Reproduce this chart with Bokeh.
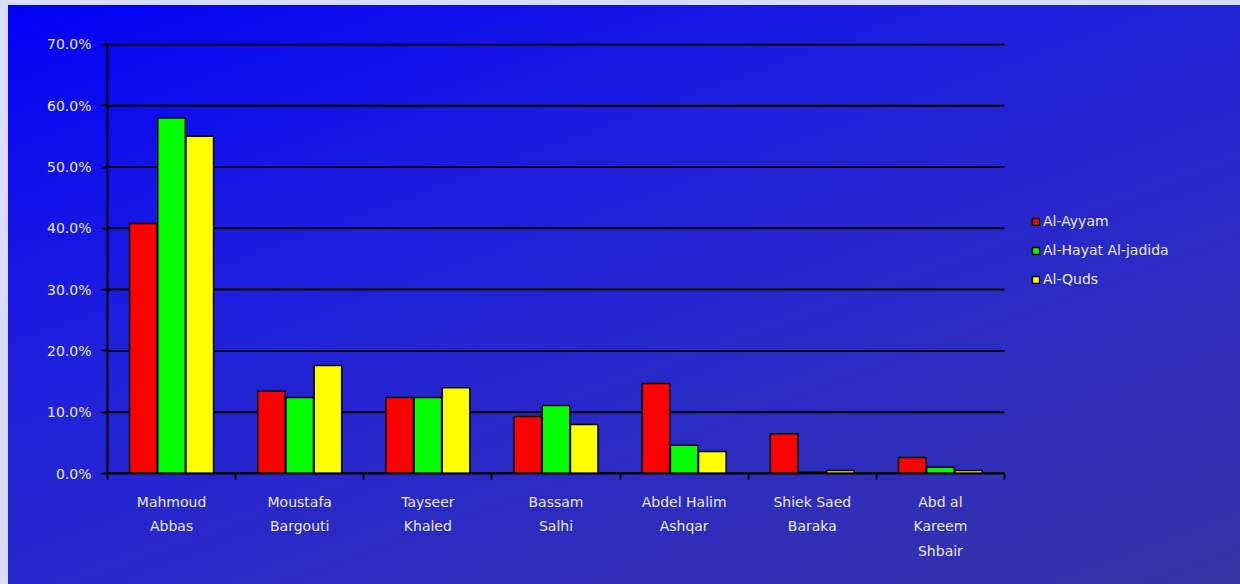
from bokeh.plotting import figure
from bokeh.models import (FixedTicker, NumeralTickFormatter, Range1d, Legend,
                          LegendItem, ColumnDataSource)
from bokeh.embed import file_html
from bokeh.resources import INLINE

categories = ["Mahmoud\nAbbas", "Moustafa\nBargouti", "Tayseer\nKhaled",
              "Bassam\nSalhi", "Abdel Halim\nAshqar", "Shiek Saed\nBaraka",
              "Abd al\nKareem\nShbair"]
series = ["Al-Ayyam", "Al-Hayat Al-jadida", "Al-Quds"]
al_ayyam = [0.408, 0.134, 0.124, 0.093, 0.147, 0.065, 0.026]
al_hayat = [0.580, 0.124, 0.124, 0.111, 0.046, 0.002, 0.010]
al_quds = [0.550, 0.176, 0.140, 0.080, 0.036, 0.005, 0.005]
y_ticks = [0.0, 0.1, 0.2, 0.3, 0.4, 0.5, 0.6, 0.7]

colors = ["#ff0000", "#00ff00", "#ffff00"]
values = [al_ayyam, al_hayat, al_quds]
offsets = [-0.22, 0.0, 0.22]
bar_w = 0.215
text_col = "#e8e8fc"
font = "DejaVu Sans"
fsize = "14px"

n = len(categories)
centers = [i + 0.5 for i in range(n)]

# plot area spans to the right edge; axis/grid limited to the category span
left_px, axis_end_px, W = 107, 1004, 1240
x_end = n * (W - left_px) / (axis_end_px - left_px)

p = figure(width=W, height=584, output_backend="svg", toolbar_location=None,
           x_range=Range1d(0, x_end), y_range=Range1d(0, 0.7015),
           min_border_left=left_px, min_border_right=0, min_border_top=43,
           min_border_bottom=111)

p.background_fill_alpha = 0
p.border_fill_alpha = 0
p.outline_line_color = None
p.styles = {
    "background": "linear-gradient(160deg, #0000f8 0%, #1e1ee0 35%, #2c2cc0 70%, #3434a6 100%)",
    "box-shadow": "inset 8px 5px 0 #d8dcf8",
}

# horizontal gridlines over the category span only
p.segment(x0=[0] * len(y_ticks), x1=[n] * len(y_ticks), y0=y_ticks, y1=y_ticks,
          line_color="black", line_width=2)

items = []
for name, vals, col, off in zip(series, values, colors, offsets):
    src = ColumnDataSource(dict(x=[c + off for c in centers], top=vals))
    r = p.vbar(x="x", top="top", bottom=0, width=bar_w, source=src,
               fill_color=col, line_color="black", line_width=1.5)
    items.append(LegendItem(label=name, renderers=[r]))

legend = Legend(items=items, location=(924, 184), padding=0, margin=0,
                spacing=9, label_height=20, glyph_width=9, glyph_height=9,
                label_standoff=3, background_fill_alpha=0, border_line_alpha=0,
                label_text_color=text_col, label_text_font=font,
                label_text_font_size=fsize)
p.add_layout(legend, "center")

# y axis
p.yaxis.ticker = FixedTicker(ticks=y_ticks)
p.yaxis.formatter = NumeralTickFormatter(format="0.0%")
p.yaxis.axis_line_color = "black"
p.yaxis.axis_line_width = 2
p.yaxis.major_tick_line_color = "black"
p.yaxis.major_tick_line_width = 2
p.yaxis.major_tick_out = 6
p.yaxis.major_tick_in = 0
p.yaxis.minor_tick_line_color = None
p.yaxis.major_label_standoff = 10
p.yaxis.major_label_text_color = text_col
p.yaxis.major_label_text_font = font
p.yaxis.major_label_text_font_size = fsize

# x axis: labels at centers, ticks at category boundaries
p.xaxis.ticker = FixedTicker(ticks=centers, minor_ticks=list(range(n + 1)))
p.xaxis.bounds = (0, n)
p.xaxis.major_label_overrides = {c: lab for c, lab in zip(centers, categories)}
p.xaxis.axis_line_color = "black"
p.xaxis.axis_line_width = 2
p.xaxis.major_tick_line_color = None
p.xaxis.minor_tick_line_color = "black"
p.xaxis.minor_tick_line_width = 2
p.xaxis.minor_tick_out = 6
p.xaxis.minor_tick_in = 0
p.xaxis.major_label_standoff = 14
p.xaxis.major_label_text_color = text_col
p.xaxis.major_label_text_font = font
p.xaxis.major_label_text_font_size = fsize
p.xaxis.major_label_text_line_height = 1.55

p.xgrid.grid_line_color = None
p.ygrid.grid_line_color = None

open("out.html", "w").write(file_html(p, INLINE))
